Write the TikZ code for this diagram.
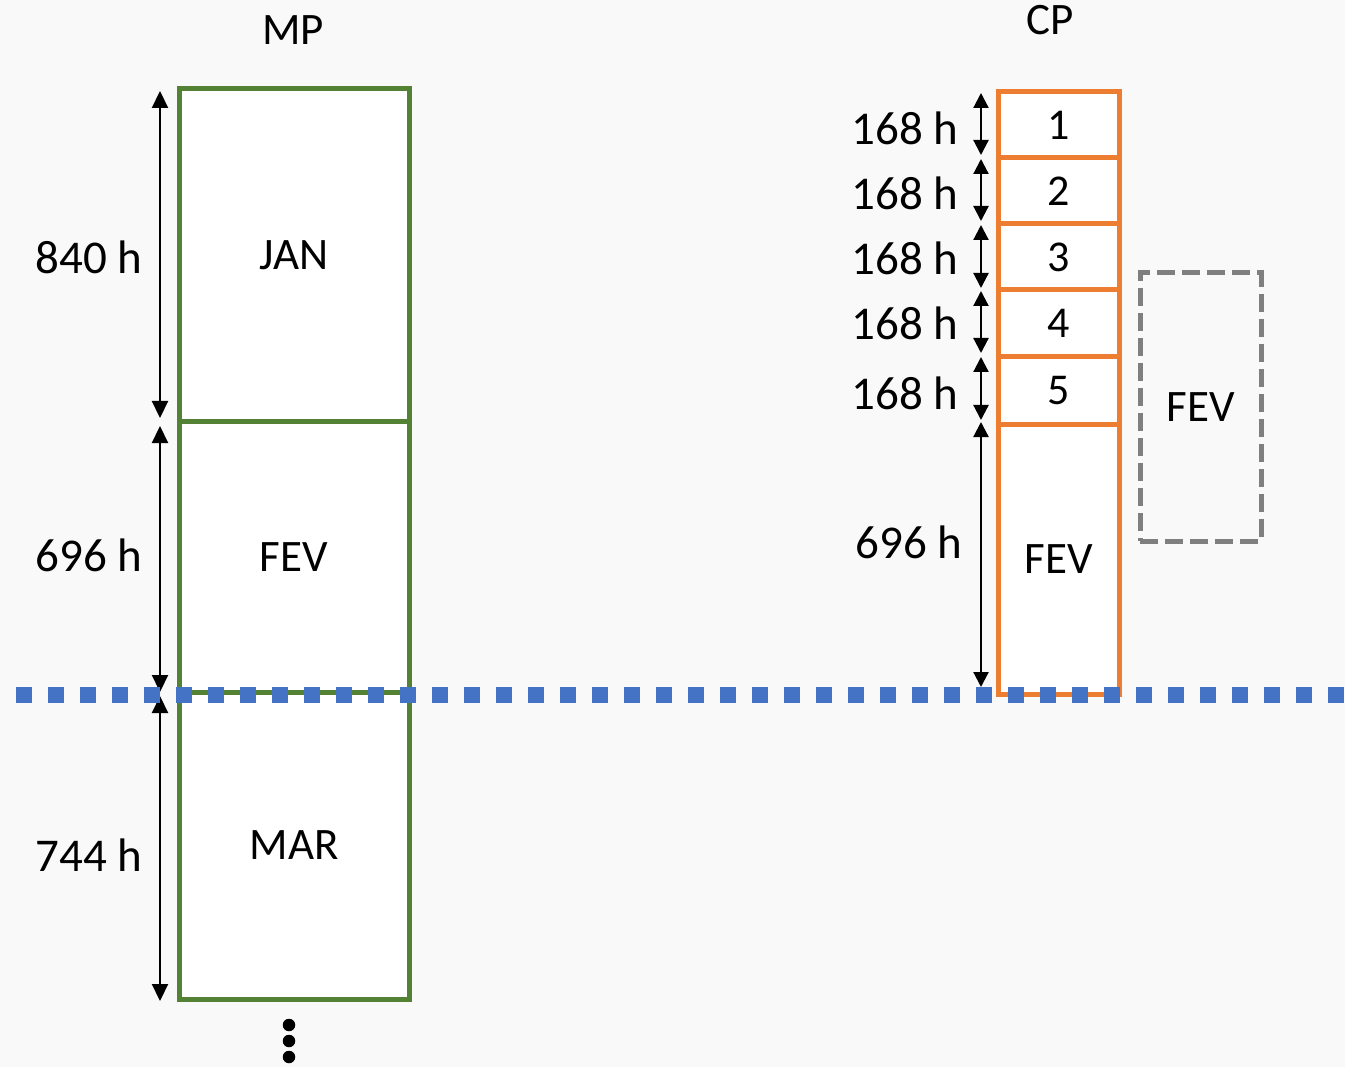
\documentclass[tikz,border=0pt]{standalone}
\usepackage{fontspec}
\setmainfont{Carlito}
\usetikzlibrary{arrows.meta}
\definecolor{bgc}{RGB}{249,249,249}
\definecolor{mpgreen}{RGB}{84,130,53}
\definecolor{cporange}{RGB}{237,125,49}
\definecolor{dashgray}{RGB}{127,127,127}
\definecolor{lineblue}{RGB}{68,114,196}
\tikzset{
  mpbox/.style={draw=mpgreen, fill=white, line width=5pt, minimum width=230pt, inner sep=0pt, font=\fontsize{45}{54}\selectfont},
  cpbox/.style={draw=cporange, fill=white, line width=5pt, minimum width=121pt, inner sep=0pt, font=\fontsize{44}{52}\selectfont},
  hourlbl/.style={inner sep=0pt, font=\fontsize{47}{56}\selectfont},
  titlelbl/.style={inner sep=0pt, font=\fontsize{45}{54}\selectfont},
  dimarrow/.style={line width=2.2pt, {Triangle[width=16pt,length=17pt]}-{Triangle[width=16pt,length=17pt]}},
  dimarrowsmall/.style={line width=2.2pt, {Triangle[width=15pt,length=15pt]}-{Triangle[width=15pt,length=15pt]}},
  dotnode/.style={circle, fill=black, inner sep=0pt, minimum size=12.5pt}
}
\begin{document}
\begin{tikzpicture}[x=1pt,y=-1pt]
\fill[bgc] (0,0) rectangle (1345,1067);
\useasboundingbox (0,0) rectangle (1345,1067);

% MP column
\node[titlelbl] (mp) at (293,30) {MP};
\node[mpbox, minimum height=333pt] (jan) at (294,255.5) {JAN};
\node[mpbox, minimum height=270pt] (fev) at (294,557) {FEV};
\node[mpbox, minimum height=307pt] (mar) at (294,845.5) {MAR};

\coordinate (a1t) at (160,91);   \coordinate (a1b) at (160,418);
\coordinate (a2t) at (160,426);  \coordinate (a2b) at (160,692);
\coordinate (a3t) at (160,696);  \coordinate (a3b) at (160,1001);
\draw[dimarrow] (a1t) -- (a1b);
\draw[dimarrow] (a2t) -- (a2b);
\draw[dimarrow] (a3t) -- (a3b);
\node[hourlbl] (h840) at (89,257) {840 h};
\node[hourlbl] (h696) at (89,555) {696 h};
\node[hourlbl] (h744) at (89,855) {744 h};

\node[dotnode] (d1) at (289,1025) {};
\node[dotnode] (d2) at (289,1041) {};
\node[dotnode] (d3) at (289,1057) {};

% CP column
\node[titlelbl] (cp) at (1050,20) {CP};
\node[cpbox, minimum height=66pt] (w1) at (1058.5,125) {1};
\node[cpbox, minimum height=66pt] (w2) at (1058.5,191) {2};
\node[cpbox, minimum height=66pt] (w3) at (1058.5,257) {3};
\node[cpbox, minimum height=67pt] (w4) at (1058.5,323.5) {4};
\node[cpbox, minimum height=68pt] (w5) at (1058.5,391) {5};
\node[cpbox, minimum height=269pt, font=\fontsize{45}{54}\selectfont] (wf) at (1058.5,559.5) {FEV};

\coordinate (b1t) at (981,93);  \coordinate (b1b) at (981,155);
\coordinate (b2t) at (981,159); \coordinate (b2b) at (981,221);
\coordinate (b3t) at (981,225); \coordinate (b3b) at (981,288);
\coordinate (b4t) at (981,291); \coordinate (b4b) at (981,353);
\coordinate (b5t) at (981,357); \coordinate (b5b) at (981,420);
\coordinate (b6t) at (981,422); \coordinate (b6b) at (981,687);
\draw[dimarrowsmall] (b1t) -- (b1b);
\draw[dimarrowsmall] (b2t) -- (b2b);
\draw[dimarrowsmall] (b3t) -- (b3b);
\draw[dimarrowsmall] (b4t) -- (b4b);
\draw[dimarrowsmall] (b5t) -- (b5b);
\draw[dimarrowsmall] (b6t) -- (b6b);
\node[hourlbl] (c1) at (905,128) {168 h};
\node[hourlbl] (c2) at (905,193) {168 h};
\node[hourlbl] (c3) at (905,258) {168 h};
\node[hourlbl] (c4) at (905,323) {168 h};
\node[hourlbl] (c5) at (905,393) {168 h};
\node[hourlbl] (c6) at (909,542) {696 h};

\node[draw=dashgray, line width=5pt, dash pattern=on 18pt off 7pt, minimum width=121pt, minimum height=268pt, inner sep=0pt, font=\fontsize{45}{54}\selectfont] (fevnext) at (1200.5,407) {FEV};

% horizon line
\coordinate (hl) at (16,695);
\coordinate (hr) at (1345,695);
\draw[lineblue, line width=16pt, dash pattern=on 16pt off 16pt] (hl) -- (hr);
\end{tikzpicture}
\end{document}
